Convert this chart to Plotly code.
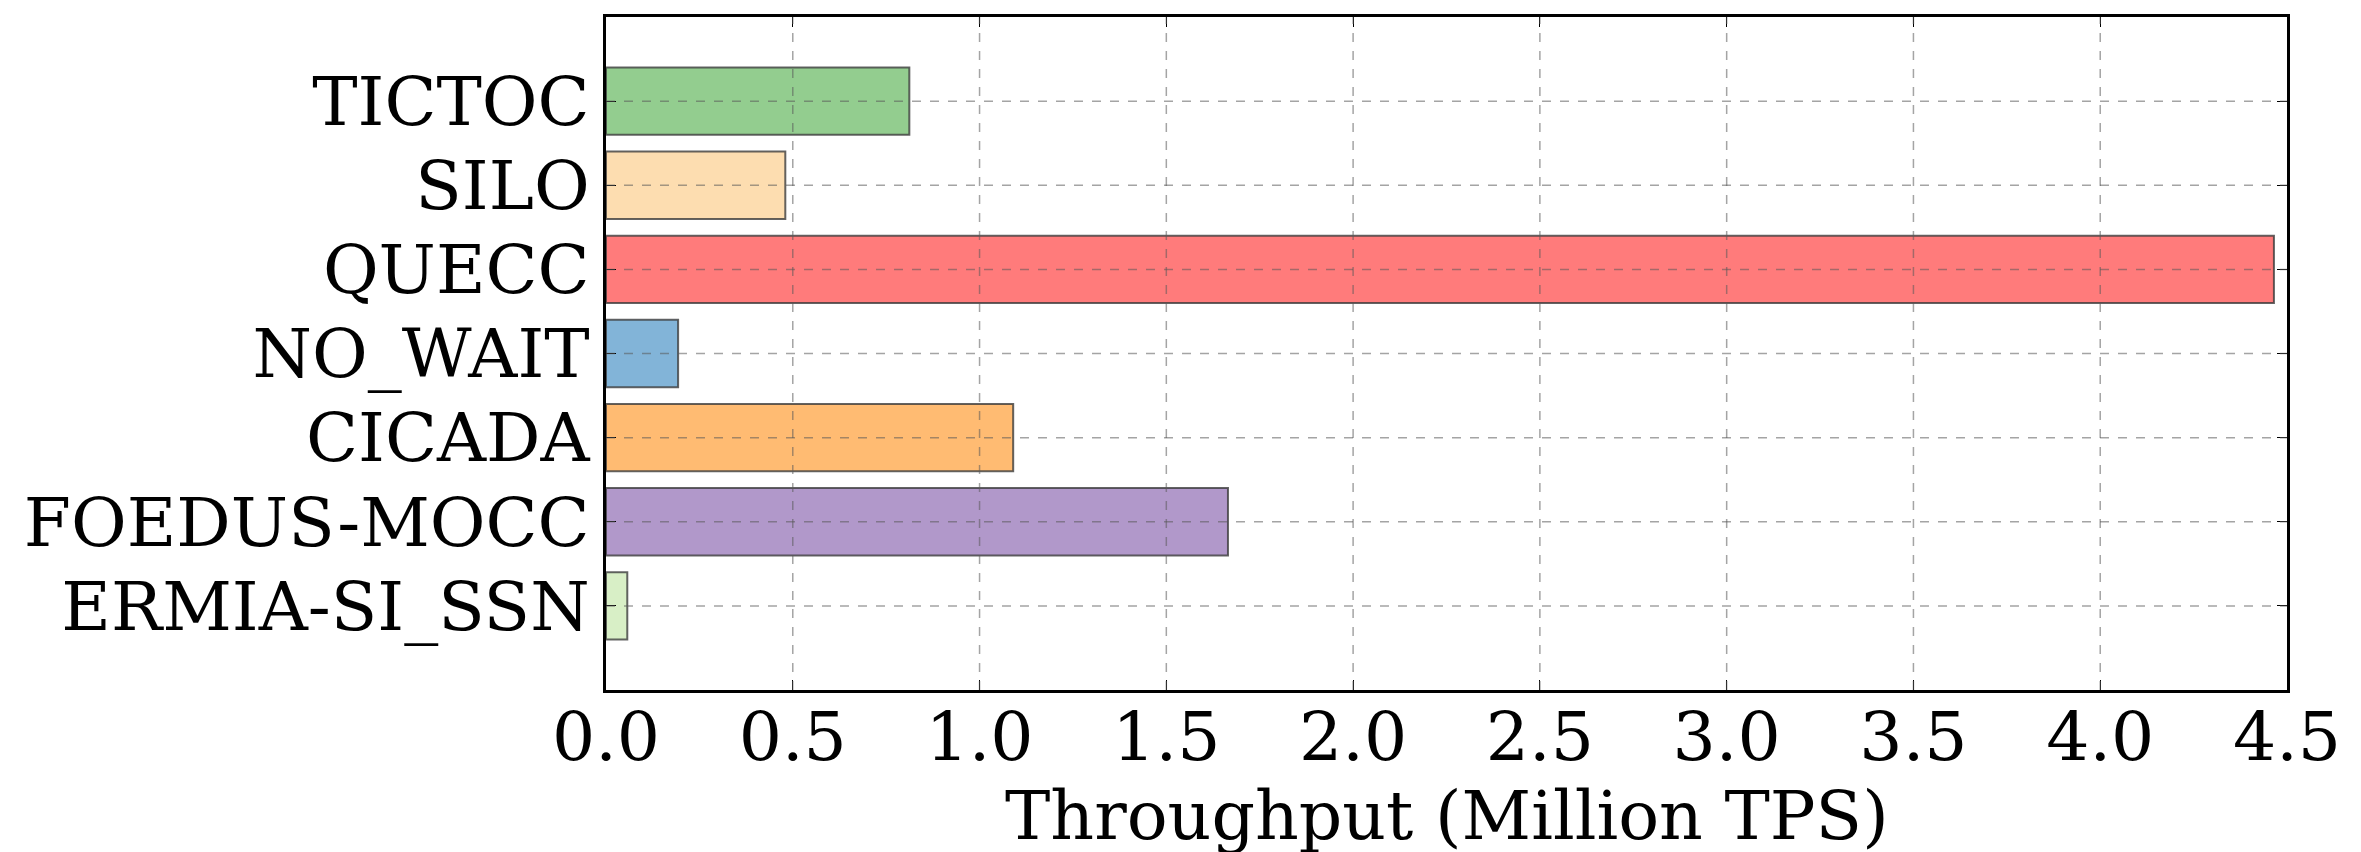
import plotly.graph_objects as go

systems = ["ERMIA-SI_SSN", "FOEDUS-MOCC", "CICADA", "NO_WAIT", "QUECC", "SILO", "TICTOC"]
throughput = [0.057, 1.665, 1.09, 0.193, 4.465, 0.48, 0.812]
colors = ["#D8EFC6", "#B198CA", "#FFBB72", "#82B4D8", "#FF7B7B", "#FDDDB0", "#93CD8F"]
x_ticks = [0.0, 0.5, 1.0, 1.5, 2.0, 2.5, 3.0, 3.5, 4.0, 4.5]

font = "DejaVu Serif"

fig = go.Figure()
fig.add_trace(go.Bar(
    x=throughput, y=list(range(len(systems))), orientation="h", width=0.8,
    marker=dict(color=colors, line=dict(color="rgba(60,60,60,0.8)", width=2)),
))

# matplotlib-style grid drawn on top of the bars
for t in x_ticks[1:-1]:
    fig.add_vline(x=t, line=dict(color="rgba(90,90,90,0.55)", width=1.5, dash="dash"), layer="above")
for i in range(len(systems)):
    fig.add_hline(y=i, line=dict(color="rgba(90,90,90,0.55)", width=1.5, dash="dash"), layer="above")

fig.update_xaxes(
    range=[0, 4.5], tickvals=x_ticks, ticktext=[f"{t:.1f}" for t in x_ticks],
    ticks="inside", ticklen=10, tickcolor="black", tickwidth=1, ticklabelstandoff=-14,
    showgrid=False, zeroline=False, showline=True, linecolor="black", linewidth=2.5, mirror="ticks",
    tickfont=dict(family=font, size=68, color="black"),
)
fig.update_yaxes(
    range=[-1, 7], tickvals=list(range(len(systems))), ticktext=systems,
    ticks="inside", ticklen=10, tickcolor="black", tickwidth=1,
    showgrid=False, zeroline=False, showline=True, linecolor="black", linewidth=2.5, mirror="ticks",
    tickfont=dict(family=font, size=68, color="black"),
)
fig.add_annotation(
    text="Throughput (Million TPS)", xref="paper", yref="paper", x=0.5, y=0,
    yanchor="middle", yshift=-125, showarrow=False,
    font=dict(family=font, size=68, color="black"),
)
fig.update_layout(
    width=2361, height=852, plot_bgcolor="white", paper_bgcolor="white",
    margin=dict(l=598, r=82, t=6, b=170), showlegend=False,
)
fig.write_html("out.html")
